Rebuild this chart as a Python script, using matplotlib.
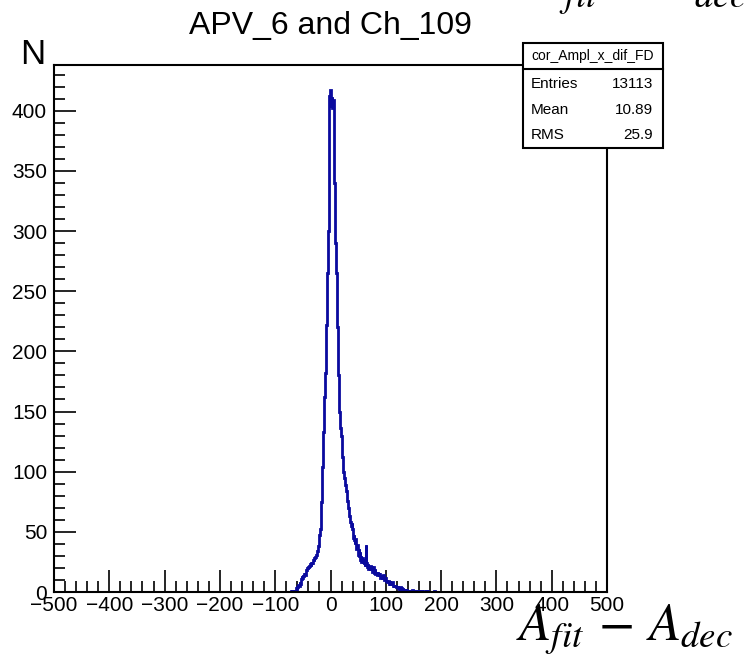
import matplotlib
matplotlib.use("Agg")
import matplotlib.pyplot as plt
from matplotlib.patches import Rectangle
from matplotlib.lines import Line2D
from matplotlib.ticker import MultipleLocator
import numpy as np

# ---------------- data ----------------
title = "APV_6 and Ch_109"
hist_name = "cor_Ampl_x_dif_FD"
stat_labels = ["Entries", "Mean", "RMS"]
stat_values = ["13113", "10.89", "25.9"]
x_range = (-500, 500)
bin_width = 1
first_edge = -75
counts = [
    0, 1, 0, 0, 1, 0, 1, 1, 0, 1,
    2, 1, 2, 3, 2, 4, 5, 6, 5, 8,
    7, 9, 11, 13, 12, 14, 13, 15, 16, 14,
    17, 18, 18, 20, 19, 21, 20, 22, 23, 22,
    24, 25, 24, 26, 27, 26, 28, 29, 30, 31,
    33, 34, 36, 38, 44, 47, 52, 62, 75, 88,
    104, 118, 133, 148, 162, 182, 200, 222, 245, 265,
    292, 300, 353, 412, 417,
    408, 404, 411, 402, 406, 409, 376, 340, 315, 290,
    265, 240, 220, 198, 180, 160, 150, 141, 136, 130,
    120, 112, 104, 100, 98, 95, 92, 89, 84, 80,
    76, 73, 70, 66, 63, 61, 58, 55, 57, 52,
    50, 45, 47, 43, 40, 44, 38, 36, 39, 34,
    31, 36, 30, 33, 27, 30, 25, 28, 24, 26,
    23, 25, 22, 27, 39, 24, 21, 23, 19, 22,
    20, 18, 22, 19, 21, 17, 20, 21, 18, 16,
    19, 15, 17, 16, 14, 17, 15, 13, 15, 14,
    12, 14, 13, 11, 13, 14, 12, 10, 11, 12,
    10, 9, 10, 8, 9, 8, 7, 9, 7, 6,
    7, 6, 8, 5, 6, 5, 4, 5, 4, 4,
    3, 4, 3, 3, 2, 3, 4, 2, 3, 2,
    2, 3, 2, 1, 2, 2, 1, 2, 1, 1,
    2, 1, 1, 2, 1, 1, 0, 1, 2, 1,
    1, 0, 1, 1, 0, 1, 2, 1, 0, 1,
    1, 0, 1, 0, 1, 1, 0, 0, 1, 0,
    1, 0, 0, 1, 0, 1, 0, 0, 1, 0,
    0, 1, 0, 0, 0, 1, 0, 0, 1, 0,
    0, 0, 1,
]
y_max = 438
x_major, x_minor = 100, 20
y_major, y_minor = 50, 10

# ---------------- figure ----------------
W, H = 744, 660
fig = plt.figure(figsize=(W / 100, H / 100), dpi=100)
plt.rcParams["font.family"] = ["Liberation Sans", "DejaVu Sans"]
plt.rcParams["mathtext.fontset"] = "stix"

def fx(px):
    return px / W

def fy(py):
    return 1 - py / H

L, R, T, B = 54, 607, 65, 592
ax = fig.add_axes([fx(L), fy(B), fx(R) - fx(L), fy(T) - fy(B)])

edges = first_edge + bin_width * np.arange(len(counts) + 1)
ax.stairs(counts, edges, color="#0a0a9e", lw=2.0, baseline=None, zorder=2)

ax.set_xlim(*x_range)
ax.set_ylim(0, y_max)
ax.xaxis.set_major_locator(MultipleLocator(x_major))
ax.xaxis.set_minor_locator(MultipleLocator(x_minor))
ax.yaxis.set_major_locator(MultipleLocator(y_major))
ax.yaxis.set_minor_locator(MultipleLocator(y_minor))
ax.tick_params(which="both", direction="in", top=False, right=False, width=1.2, color="black")
ax.tick_params(which="major", length=16)
ax.tick_params(which="minor", length=8)
ax.tick_params(axis="x", which="major", labelsize=15, pad=3)
ax.tick_params(axis="y", which="major", labelsize=15, pad=5)
for s in ax.spines.values():
    s.set_linewidth(1.5)

# title and axis letter
fig.text(fx(330), fy(34), title, ha="center", va="baseline", fontsize=23)
fig.text(fx(20), fy(64), "N", ha="left", va="baseline", fontsize=25)

# x label (and clipped copy at top)
xlab = r"$A_{fit}\,-\,A_{dec}$"
fig.text(fx(516), fy(640), xlab, ha="left", va="baseline", fontsize=38)
fig.text(fx(530), fy(0), xlab, ha="left", va="baseline", fontsize=38)

# stats box
bx0, by0, bx1, by1 = 523, 43, 663, 148
sep = 69
fig.add_artist(Rectangle((fx(bx0), fy(by1)), fx(bx1) - fx(bx0), fy(by0) - fy(by1),
                         transform=fig.transFigure, facecolor="white",
                         edgecolor="black", lw=1.5, zorder=5))
fig.add_artist(Line2D([fx(bx0), fx(bx1)], [fy(sep), fy(sep)],
                      transform=fig.transFigure, color="black", lw=1.5, zorder=6))
fig.text(fx((bx0 + bx1) / 2), fy(56), hist_name, ha="center", va="center",
         fontsize=10, zorder=7)
row_y = [84, 110, 135]
for lab, val, yy in zip(stat_labels, stat_values, row_y):
    fig.text(fx(531), fy(yy), lab, ha="left", va="center", fontsize=11, zorder=7)
    fig.text(fx(653), fy(yy), val, ha="right", va="center", fontsize=11, zorder=7)

fig.savefig("out.png", dpi=100)
